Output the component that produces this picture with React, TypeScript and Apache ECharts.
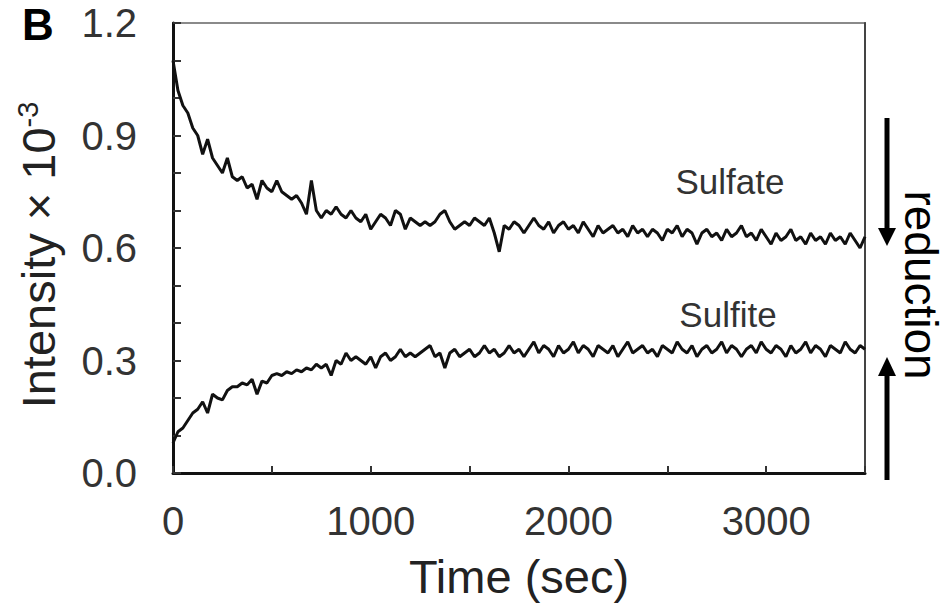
import React, { useEffect, useRef } from 'react';
import * as echarts from 'echarts';

// sampling interval of the traces (seconds)
const SAMPLE_STEP_SEC = 25;

// Sulfate trace, intensity x 10^-3, one value every 25 s from 0 to 3500 s
const sulfate = [
  1.10, 1.02, 0.98, 0.96, 0.92, 0.90, 0.85, 0.89, 0.84, 0.82,
  0.80, 0.84, 0.79, 0.78, 0.79, 0.76, 0.77, 0.73, 0.78, 0.76,
  0.75, 0.78, 0.75, 0.74, 0.73, 0.74, 0.72, 0.69, 0.78, 0.70,
  0.68, 0.70, 0.69, 0.71, 0.69, 0.68, 0.70, 0.68, 0.67, 0.69,
  0.65, 0.67, 0.69, 0.68, 0.66, 0.70, 0.69, 0.65, 0.68, 0.67,
  0.66, 0.67, 0.66, 0.67, 0.69, 0.70, 0.67, 0.65, 0.66, 0.67,
  0.66, 0.68, 0.67, 0.66, 0.68, 0.64, 0.59, 0.66, 0.65, 0.67,
  0.66, 0.64, 0.66, 0.68, 0.66, 0.65, 0.67, 0.64, 0.66, 0.67,
  0.65, 0.66, 0.64, 0.67, 0.65, 0.63, 0.66, 0.64, 0.65, 0.66,
  0.64, 0.65, 0.63, 0.66, 0.64, 0.65, 0.63, 0.65, 0.64, 0.62,
  0.65, 0.64, 0.66, 0.63, 0.65, 0.64, 0.61, 0.64, 0.65, 0.63,
  0.64, 0.62, 0.65, 0.63, 0.64, 0.66, 0.63, 0.64, 0.62, 0.65,
  0.63, 0.61, 0.64, 0.62, 0.63, 0.65, 0.62, 0.63, 0.61, 0.64,
  0.62, 0.63, 0.61, 0.64, 0.62, 0.63, 0.61, 0.64, 0.62, 0.60,
  0.63,
];

// Sulfite trace, intensity x 10^-3, one value every 25 s from 0 to 3500 s
const sulfite = [
  0.08, 0.11, 0.12, 0.14, 0.16, 0.17, 0.19, 0.16, 0.21, 0.20,
  0.195, 0.22, 0.23, 0.23, 0.24, 0.235, 0.25, 0.21, 0.245, 0.24,
  0.26, 0.265, 0.26, 0.27, 0.265, 0.275, 0.27, 0.28, 0.275, 0.29,
  0.28, 0.29, 0.26, 0.30, 0.29, 0.32, 0.30, 0.31, 0.30, 0.29,
  0.31, 0.28, 0.31, 0.32, 0.30, 0.31, 0.33, 0.31, 0.32, 0.31,
  0.32, 0.33, 0.34, 0.31, 0.32, 0.28, 0.32, 0.33, 0.31, 0.32,
  0.33, 0.31, 0.32, 0.34, 0.32, 0.33, 0.31, 0.32, 0.34, 0.32,
  0.33, 0.31, 0.33, 0.35, 0.32, 0.34, 0.33, 0.31, 0.34, 0.32,
  0.33, 0.35, 0.32, 0.34, 0.33, 0.31, 0.34, 0.33, 0.32, 0.34,
  0.31, 0.33, 0.35, 0.32, 0.33, 0.34, 0.32, 0.33, 0.31, 0.34,
  0.33, 0.32, 0.35, 0.33, 0.32, 0.34, 0.31, 0.33, 0.34, 0.32,
  0.33, 0.35, 0.32, 0.34, 0.33, 0.31, 0.33, 0.34, 0.32, 0.35,
  0.33, 0.32, 0.34, 0.33, 0.31, 0.34, 0.32, 0.33, 0.35, 0.32,
  0.34, 0.33, 0.31, 0.34, 0.33, 0.32, 0.35, 0.33, 0.32, 0.34,
  0.33,
];

const X_TICK_LABELS = [0, 1000, 2000, 3000];
const Y_TICK_LABELS = ['0.0', '0.3', '0.6', '0.9', '1.2'];

const FONT = '"Liberation Sans", Arial, Helvetica, sans-serif';

const toPairs = (vals: number[]) => vals.map((v, i) => [i * SAMPLE_STEP_SEC, v]);

export default function App() {
  const ref = useRef<HTMLDivElement>(null);

  useEffect(() => {
    const chart = echarts.init(ref.current!, null, { renderer: 'svg' });

    const option: any = {
      animation: false,
      backgroundColor: '#ffffff',
      textStyle: { fontFamily: FONT },
      grid: {
        left: 173,
        right: 83,
        top: 23,
        bottom: 140,
        show: true,
        borderColor: '#8a8a8a',
        borderWidth: 2,
        backgroundColor: 'transparent',
      },
      xAxis: {
        type: 'value',
        min: 0,
        max: 3500,
        interval: 500,
        name: 'Time (sec)',
        nameLocation: 'middle',
        nameGap: 80,
        nameTextStyle: { fontFamily: FONT, fontSize: 47, color: '#222' },
        axisLine: { show: true, lineStyle: { color: '#111', width: 3 } },
        axisTick: { show: true, inside: true, length: 7, lineStyle: { color: '#333', width: 2 } },
        axisLabel: {
          fontFamily: FONT,
          fontSize: 40,
          color: '#333',
          margin: 28,
          formatter: (v: number) => (X_TICK_LABELS.includes(v) ? String(v) : ''),
        },
        splitLine: { show: false },
      },
      yAxis: [
        {
          type: 'value',
          min: 0,
          max: 1.2,
          interval: 0.1,
          name: '{a|Intensity × 10}{b|-3}',
          nameLocation: 'middle',
          nameRotate: 90,
          nameGap: 110,
          nameTextStyle: {
            fontFamily: FONT,
            fontSize: 47,
            color: '#222',
            padding: [0, 14, 0, 0],
            rich: {
              a: { fontFamily: FONT, fontSize: 47, color: '#222', lineHeight: 50 },
              b: { fontFamily: FONT, fontSize: 29, color: '#222', verticalAlign: 'top', lineHeight: 50, padding: [0, 0, 14, 0] },
            },
          },
          axisLine: { show: true, lineStyle: { color: '#111', width: 3 } },
          axisTick: { show: true, inside: true, length: 8, lineStyle: { color: '#333', width: 2 } },
          axisLabel: {
            fontFamily: FONT,
            fontSize: 40,
            color: '#333',
            margin: 36,
            formatter: (v: number) => {
              const s = v.toFixed(1);
              return Y_TICK_LABELS.includes(s) ? s : '';
            },
          },
          splitLine: { show: false },
        },
        {
          type: 'value',
          min: 0,
          max: 1.2,
          position: 'right',
          axisLine: { show: true, lineStyle: { color: '#444', width: 2 } },
          axisTick: { show: false },
          axisLabel: { show: false },
          splitLine: { show: false },
        },
      ],
      series: [
        {
          name: 'Sulfate',
          type: 'line',
          data: toPairs(sulfate),
          showSymbol: false,
          symbol: 'none',
          lineStyle: { color: '#111', width: 3 },
          z: 3,
        },
        {
          name: 'Sulfite',
          type: 'line',
          data: toPairs(sulfite),
          showSymbol: false,
          symbol: 'none',
          lineStyle: { color: '#111', width: 3 },
          z: 3,
        },
      ],
      graphic: [
        {
          type: 'text',
          x: 38,
          y: 24,
          style: { text: 'B', fontFamily: FONT, fontSize: 44, fontWeight: 'bold', fill: '#000', align: 'center', verticalAlign: 'middle' },
        },
        {
          type: 'text',
          x: 730,
          y: 181,
          style: { text: 'Sulfate', fontFamily: FONT, fontSize: 35, fill: '#333', align: 'center', verticalAlign: 'middle' },
        },
        {
          type: 'text',
          x: 728,
          y: 314,
          style: { text: 'Sulfite', fontFamily: FONT, fontSize: 35, fill: '#333', align: 'center', verticalAlign: 'middle' },
        },
        // down arrow
        {
          type: 'line',
          shape: { x1: 887, y1: 118, x2: 887, y2: 232 },
          style: { stroke: '#000', lineWidth: 5 },
        },
        {
          type: 'polygon',
          shape: { points: [[878, 228], [896, 228], [887, 246]] },
          style: { fill: '#000' },
        },
        // up arrow
        {
          type: 'line',
          shape: { x1: 887, y1: 480, x2: 887, y2: 372 },
          style: { stroke: '#000', lineWidth: 5 },
        },
        {
          type: 'polygon',
          shape: { points: [[878, 376], [896, 376], [887, 357]] },
          style: { fill: '#000' },
        },
        {
          type: 'text',
          x: 921,
          y: 285,
          rotation: -Math.PI / 2,
          style: { text: 'reduction', fontFamily: FONT, fontSize: 46, fill: '#000', align: 'center', verticalAlign: 'middle' },
        },
      ],
    };

    chart.setOption(option);
    return () => chart.dispose();
  }, []);

  return (
    <div
      ref={ref}
      style={{ position: 'absolute', left: 0, top: 0, width: 948, height: 613 }}
    />
  );
}
